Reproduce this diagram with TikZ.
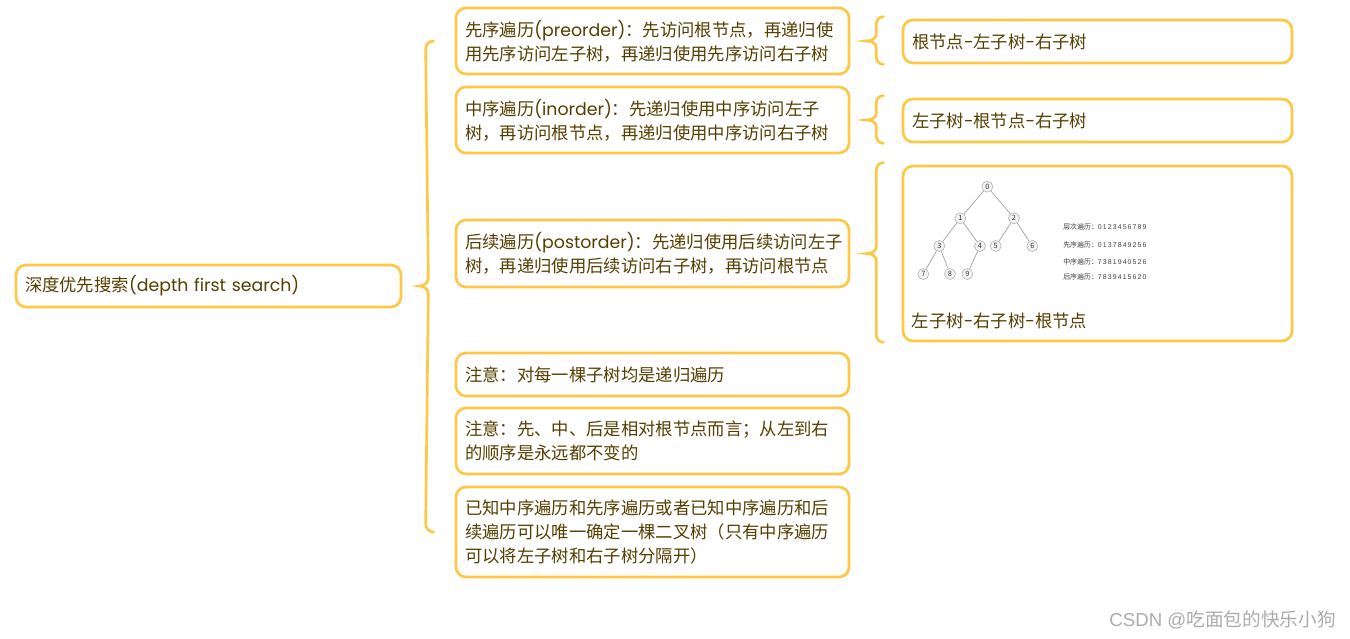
\documentclass[tikz,border=0pt]{standalone}
\usepackage{fontspec}
\setmainfont{Noto Sans CJK SC}
\newfontfamily\lat{Poppins}
\newfontfamily\arialf{Liberation Sans}
\newfontfamily\digs[LetterSpace=16]{Liberation Sans}
\usetikzlibrary{calc}
\definecolor{bord}{HTML}{FFC844}
\definecolor{txt}{HTML}{553F00}
\begin{document}
\begin{tikzpicture}[x=0.75pt,y=-0.75pt,
  box/.style={draw=bord,line width=2pt,rounded corners=7.5pt,text=txt,
    font=\fontsize{13pt}{18pt}\selectfont,align=left,inner xsep=6.75pt,inner ysep=0pt},
  colbox/.style={box,minimum width=294.75pt,text width=281.25pt},
  rbox/.style={box,minimum width=291.75pt,text width=278.25pt},
  conn/.style={draw=bord,line width=2pt,line cap=round},
  tnode/.style={circle,draw=gray!65,fill=gray!10,inner sep=0pt,minimum size=8.25pt,
    font=\fontsize{5.5pt}{6pt}\selectfont,text=black!80},
  tedge/.style={draw=gray!75,line width=0.5pt},
  trav/.style={anchor=west,inner sep=0pt,text=black!75,font=\fontsize{5.2pt}{6pt}\selectfont},
  lbl/.style={text=txt,font=\fontsize{13pt}{18pt}\selectfont,inner sep=0pt}]
\useasboundingbox[fill=white] (0,0) rectangle (1350,639);

% root
\node[box,minimum width=288.75pt,minimum height=31.5pt,text width=275.25pt] (root) at (208.5,286)
  {深度优先搜索{\lat (depth first search)}};

% middle column
\node[colbox,minimum height=49.5pt] (b1) at (652.5,41)
  {先序遍历{\lat (preorder)}：先访问根节点，再递归使\\用先序访问左子树，再递归使用先序访问右子树};
\node[colbox,minimum height=49.5pt] (b2) at (652.5,120)
  {中序遍历{\lat (inorder)}：先递归使用中序访问左子\\树，再访问根节点，再递归使用中序访问右子树};
\node[colbox,minimum height=50.25pt] (b3) at (652.5,253.5)
  {后续遍历{\lat (postorder)}：先递归使用后续访问左子\\树，再递归使用后续访问右子树，再访问根节点};
\node[colbox,minimum height=32.25pt] (b4) at (652.5,374.5)
  {注意：对每一棵子树均是递归遍历};
\node[colbox,minimum height=49.5pt] (b5) at (652.5,441)
  {注意：先、中、后是相对根节点而言；从左到右\\的顺序是永远都不变的};
\node[colbox,minimum height=67.5pt] (b6) at (652.5,532)
  {已知中序遍历和先序遍历或者已知中序遍历和后\\续遍历可以唯一确定一棵二叉树（只有中序遍历\\可以将左子树和右子树分隔开）};

% right column
\node[rbox,minimum height=32.25pt] (r1) at (1097.5,41.5) {根节点{\lat -}左子树{\lat -}右子树};
\node[rbox,minimum height=32.25pt] (r2) at (1097.5,120.5) {左子树{\lat -}根节点{\lat -}右子树};
\node[rbox,minimum height=131.25pt] (r3) at (1097.5,253.5) {};
\node[lbl,anchor=west] (r3t) at ($(r3.south west)+(10,-21)$) {左子树{\lat -}右子树{\lat -}根节点};

% big brace
\coordinate (tb) at ($(root.east)+(17,0)$);
\coordinate (bt) at ($(b1.west)+(-21,0)$);
\coordinate (bb) at ($(b6.west)+(-21,0)$);
\draw[conn] (bt) to[out=180,in=90] ($(bt)+(-8,8)$) -- ($(tb)+(9,-8)$)
  to[out=-90,in=0] (tb) to[out=0,in=90] ($(tb)+(9,8)$) -- ($(bb)+(-8,-8)$)
  to[out=-90,in=180] (bb);

% small braces
\foreach \b/\r in {b1/r1,b2/r2,b3/r3}{
  \coordinate (t) at ($(\b.east)+(16,0)$);
  \coordinate (top) at ($(t |- \r.north)+(17,-2)$);
  \coordinate (bot) at ($(t |- \r.south)+(17,0)$);
  \draw[conn] (top) to[out=180,in=90] ($(top)+(-7,7)$) -- ($(t)+(10,-7)$)
    to[out=-90,in=0] (t) to[out=0,in=90] ($(t)+(10,7)$) -- ($(bot)+(-7,-7)$)
    to[out=-90,in=180] (bot);
}

% tree picture
\node[tnode] (n0) at (987.3,186.7) {0};
\node[tnode] (n1) at (960.3,218.3) {1};
\node[tnode] (n2) at (1014,218.3) {2};
\node[tnode] (n3) at (939.3,246) {3};
\node[tnode] (n4) at (980,246) {4};
\node[tnode] (n5) at (995.7,246) {5};
\node[tnode] (n6) at (1032.3,246) {6};
\node[tnode] (n7) at (923.3,274) {7};
\node[tnode] (n8) at (950,274) {8};
\node[tnode] (n9) at (967.3,274) {9};
\foreach \a/\c in {n0/n1,n0/n2,n1/n3,n1/n4,n2/n5,n2/n6,n3/n7,n3/n8,n4/n9}
  \draw[tedge] (\a) -- (\c);

\node[trav] (tr1) at (1063,227.3) {层次遍历：{\digs 0123456789}};
\node[trav] (tr2) at (1063,245) {先序遍历：{\digs 0137849256}};
\node[trav] (tr3) at (1063,261.7) {中序遍历：{\digs 7381940526}};
\node[trav] (tr4) at (1063,277.3) {后序遍历：{\digs 7839415620}};

% watermark
\node[anchor=east,inner sep=0pt,text=gray!65,font=\fontsize{14pt}{16pt}\selectfont] (wm) at (1336,620)
  {{\arialf CSDN @}吃面包的快乐小狗};
\end{tikzpicture}
\end{document}
